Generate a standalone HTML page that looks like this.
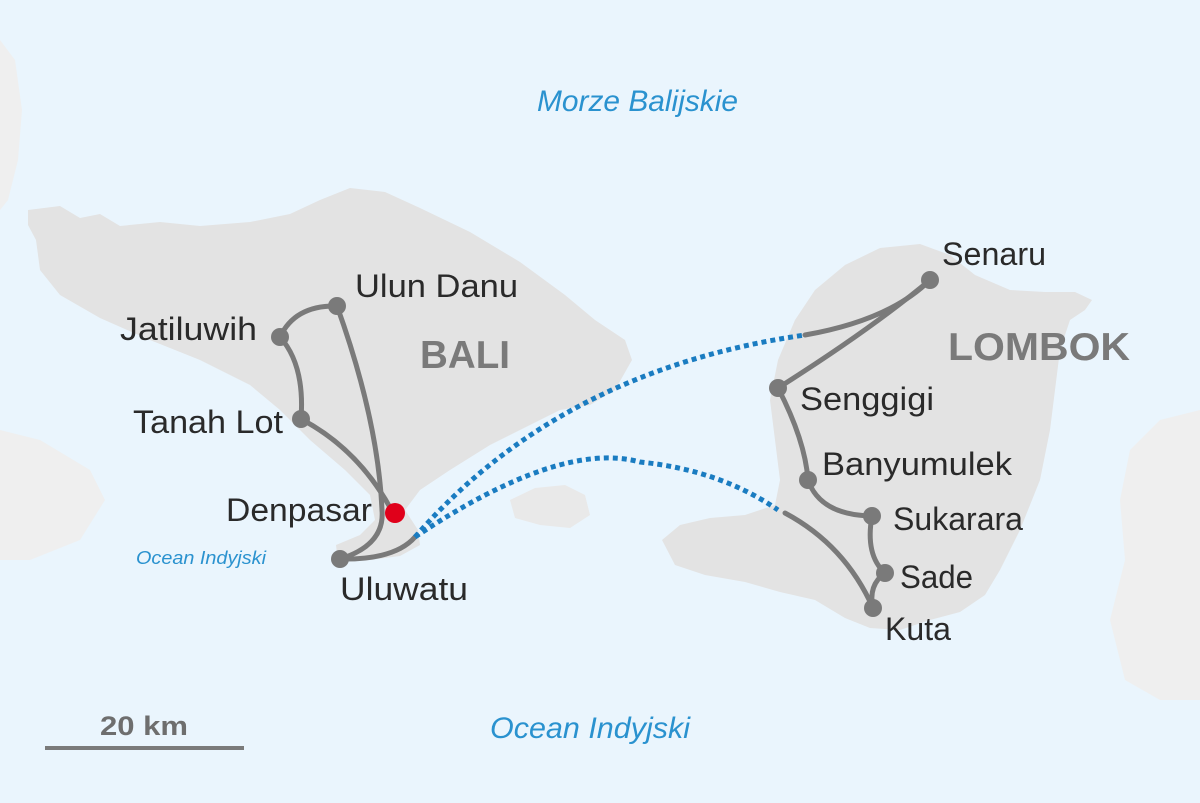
<!DOCTYPE html>
<html><head><meta charset="utf-8"><style>
html,body{margin:0;padding:0;background:#eaf5fd;}
svg{display:block}
text{font-family:"Liberation Sans",sans-serif;}
</style></head><body>
<svg width="1200" height="803" viewBox="0 0 1200 803" xmlns="http://www.w3.org/2000/svg">
<rect width="1200" height="803" fill="#eaf5fd"/>
<g fill="#efefef">
<path d="M0,40 L15,60 L22,110 L18,160 L8,200 L0,210 Z"/>
<path d="M0,430 L40,440 L90,470 L105,500 L80,540 L30,560 L0,560 Z"/>
<path d="M1200,410 L1160,420 L1130,450 L1120,500 L1125,560 L1110,620 L1125,680 L1160,700 L1200,700 Z"/>
</g>
<path fill="#e3e3e3" d="M28,210 L60,206 L80,218 L100,214 L120,226 L160,222 L200,226 L250,222 L290,214 L320,200 L350,188 L385,192 L420,208 L470,232 L520,262 L565,295 L595,320 L625,340 L632,360 L615,390 L590,405 L560,410 L530,425 L490,445 L450,470 L420,490 L405,510 L418,530 L420,545 L400,556 L370,560 L338,562 L336,545 L360,535 L375,520 L370,495 L345,470 L310,440 L280,410 L250,385 L200,360 L150,340 L100,318 L60,295 L40,270 L36,240 L28,225 Z"/>
<path fill="#e9e9e9" d="M510,500 L535,488 L565,485 L585,495 L590,515 L570,528 L540,525 L515,518 Z"/>
<path fill="#e3e3e3" d="M795,320 L815,290 L845,265 L880,248 L920,244 L950,255 L975,275 L1010,290 L1045,292 L1075,292 L1092,300 L1085,310 L1070,320 L1060,350 L1055,390 L1050,430 L1040,480 L1020,530 L1000,570 L985,595 L960,612 L930,620 L900,630 L870,628 L845,618 L815,600 L780,592 L745,582 L705,575 L675,565 L662,540 L680,525 L710,518 L745,515 L775,505 L780,480 L775,440 L770,400 L778,360 Z"/>
<g fill="none" stroke="#7a7a7a" stroke-width="5" stroke-linecap="round">
<path d="M280,337 Q295,305 337,306"/>
<path d="M280,337 Q305,365 301,419"/>
<path d="M337,306 Q378,420 382,510 Q385,545 340,559"/>
<path d="M301,419 Q360,450 393,513"/>
<path d="M340,559 Q395,560 415,537"/>
</g>
<g fill="#7a7a7a">
<circle cx="337" cy="306" r="9"/><circle cx="280" cy="337" r="9"/><circle cx="301" cy="419" r="9"/><circle cx="340" cy="559" r="9"/>
</g>
<circle cx="395" cy="513" r="10" fill="#e0001a"/>
<g fill="none" stroke="#1a7cc1" stroke-width="5" stroke-dasharray="5,4">
<path d="M415,537 Q560,370 805,335"/>
<path d="M415,537 Q560,440 640,462 Q720,470 778,510"/>
</g>
<g fill="none" stroke="#7a7a7a" stroke-width="5" stroke-linecap="round">
<path d="M805,335 Q890,320 930,280"/>
<path d="M930,280 Q870,330 778,388"/>
<path d="M778,388 Q805,440 808,480 Q820,515 872,516"/>
<path d="M872,516 Q865,555 885,573 Q868,585 873,608"/>
<path d="M785,513 Q845,545 873,608"/>
</g>
<g fill="#7a7a7a">
<circle cx="930" cy="280" r="9"/><circle cx="778" cy="388" r="9"/><circle cx="808" cy="480" r="9"/><circle cx="872" cy="516" r="9"/><circle cx="885" cy="573" r="9"/><circle cx="873" cy="608" r="9"/>
</g>
<g fill="#2a2a2a" font-size="32">
<text x="355" y="297" textLength="163" lengthAdjust="spacingAndGlyphs">Ulun Danu</text>
<text x="120" y="340" textLength="137" lengthAdjust="spacingAndGlyphs">Jatiluwih</text>
<text x="133" y="433" textLength="150" lengthAdjust="spacingAndGlyphs">Tanah Lot</text>
<text x="226" y="521" textLength="146" lengthAdjust="spacingAndGlyphs">Denpasar</text>
<text x="340" y="600" textLength="128" lengthAdjust="spacingAndGlyphs">Uluwatu</text>
<text x="942" y="265" textLength="104" lengthAdjust="spacingAndGlyphs">Senaru</text>
<text x="800" y="410" textLength="134" lengthAdjust="spacingAndGlyphs">Senggigi</text>
<text x="822" y="475" textLength="190" lengthAdjust="spacingAndGlyphs">Banyumulek</text>
<text x="893" y="530" textLength="130" lengthAdjust="spacingAndGlyphs">Sukarara</text>
<text x="900" y="588" textLength="73" lengthAdjust="spacingAndGlyphs">Sade</text>
<text x="885" y="640" textLength="66" lengthAdjust="spacingAndGlyphs">Kuta</text>
</g>
<g fill="#7a7a7a" font-weight="bold" font-size="39">
<text x="420" y="368" textLength="90" lengthAdjust="spacingAndGlyphs">BALI</text>
<text x="948" y="360" textLength="182" lengthAdjust="spacingAndGlyphs">LOMBOK</text>
</g>
<g fill="#2a92cf" font-style="italic">
<text x="537" y="111" font-size="30" textLength="201" lengthAdjust="spacingAndGlyphs">Morze Balijskie</text>
<text x="490" y="738" font-size="30" textLength="200" lengthAdjust="spacingAndGlyphs">Ocean Indyjski</text>
<text x="136" y="564" font-size="18" textLength="130" lengthAdjust="spacingAndGlyphs">Ocean Indyjski</text>
</g>
<text x="100" y="735" font-size="27" fill="#6e6e6e" font-weight="bold" textLength="88" lengthAdjust="spacingAndGlyphs">20 km</text>
<rect x="45" y="746" width="199" height="4" fill="#7a7a7a"/>
</svg>
</body></html>
